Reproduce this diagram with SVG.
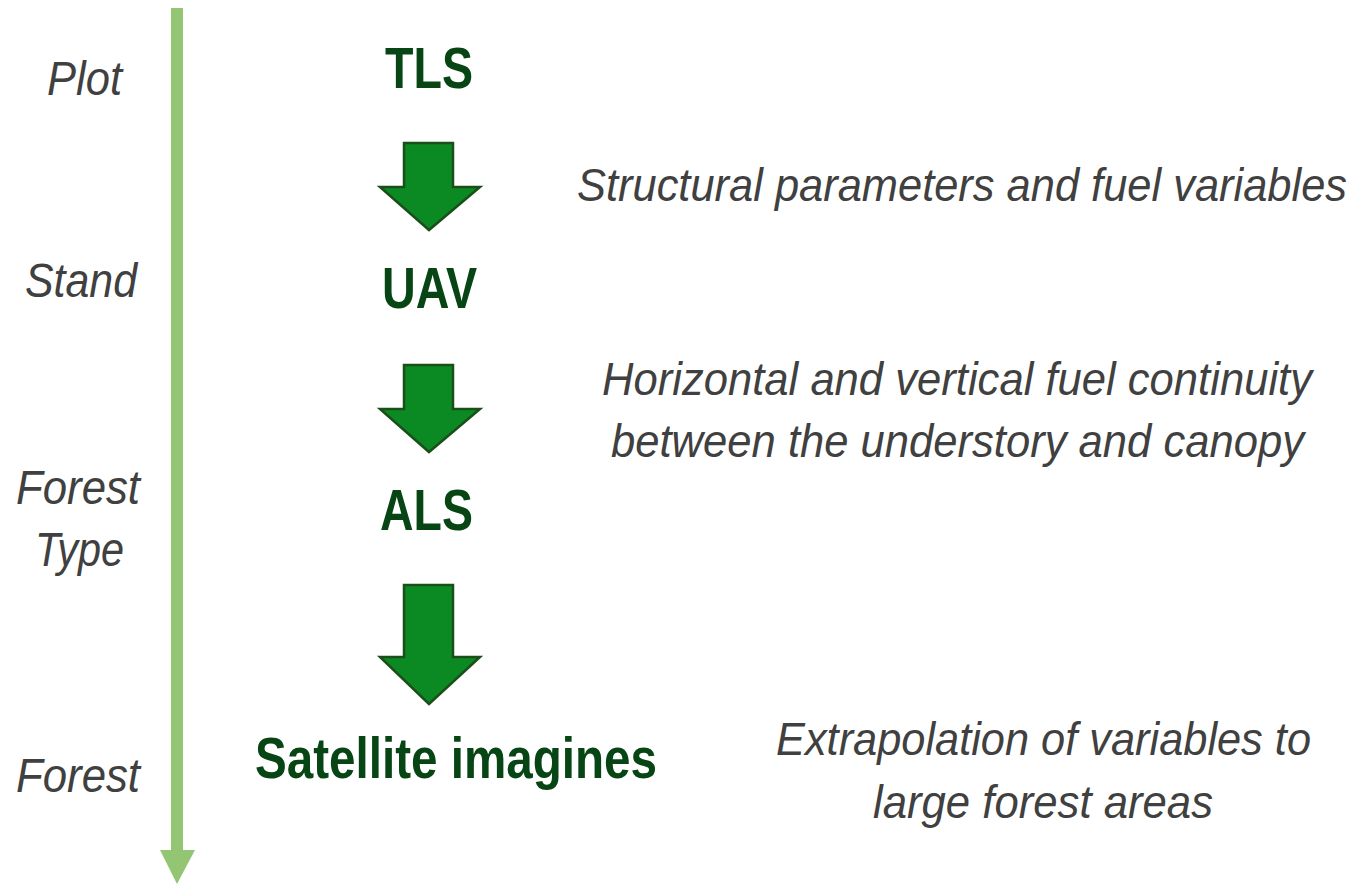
<svg xmlns="http://www.w3.org/2000/svg" width="1363" height="884" viewBox="0 0 1363 884">
  <style>
    .scale { font-family: "Liberation Sans", Arial, sans-serif; font-style: italic; font-size: 48px; fill: #404040; }
    .note { font-family: "Liberation Sans", Arial, sans-serif; font-style: italic; font-size: 43.5px; fill: #404040; }
    .sensor { font-family: "Liberation Sans", Arial, sans-serif; font-weight: bold; font-size: 57px; fill: #074515; }
    .step { fill: #0B8A24; stroke: #1A4F1A; stroke-width: 2.5; stroke-linejoin: miter; }
  </style>
  <rect width="1363" height="884" fill="#ffffff"/>

  <!-- scale axis -->
  <g id="scale-axis">
    <path d="M171 8 H183 V850 H195 L177 884 L160 850 H171 Z" fill="#93C572"/>
  </g>

  <!-- scale labels -->
  <g id="scale-plot"><text class="scale" x="47" y="95" textLength="75" lengthAdjust="spacingAndGlyphs">Plot</text></g>
  <g id="scale-stand"><text class="scale" x="25" y="297" textLength="112" lengthAdjust="spacingAndGlyphs">Stand</text></g>
  <g id="scale-forest-type">
    <text class="scale" x="16" y="504" textLength="124" lengthAdjust="spacingAndGlyphs">Forest</text>
    <text class="scale" x="35" y="566" textLength="89" lengthAdjust="spacingAndGlyphs">Type</text>
  </g>
  <g id="scale-forest"><text class="scale" x="16" y="792" textLength="124" lengthAdjust="spacingAndGlyphs">Forest</text></g>

  <!-- sensors -->
  <g id="tls"><text class="sensor" x="385" y="88" textLength="88" lengthAdjust="spacingAndGlyphs">TLS</text></g>
  <g id="uav"><text class="sensor" x="382" y="308" textLength="95" lengthAdjust="spacingAndGlyphs">UAV</text></g>
  <g id="als"><text class="sensor" x="380" y="530" textLength="93" lengthAdjust="spacingAndGlyphs">ALS</text></g>
  <g id="satellite"><text class="sensor" x="255" y="778" textLength="402" lengthAdjust="spacingAndGlyphs">Satellite imagines</text></g>

  <!-- flow arrows -->
  <g id="connectors">
    <path class="step" d="M404 143 H453 V187 H480 L429 230 L380 187 H404 Z"/>
    <path class="step" d="M404 365 H453 V409 H480 L429 452 L380 409 H404 Z"/>
    <path class="step" d="M404 585 H453 V657 H480 L429 704 L380 657 H404 Z"/>
  </g>

  <!-- descriptions (slightly stretched vertically) -->
  <g id="note-structural" transform="translate(577 201) scale(1 1.08)">
    <text class="note" x="0" y="0" textLength="770" lengthAdjust="spacingAndGlyphs">Structural parameters and fuel variables</text>
  </g>
  <g id="note-continuity">
    <text class="note" transform="translate(602 395) scale(1 1.08)" x="0" y="0" textLength="710" lengthAdjust="spacingAndGlyphs">Horizontal and vertical fuel continuity</text>
    <text class="note" transform="translate(611 457) scale(1 1.08)" x="0" y="0" textLength="693" lengthAdjust="spacingAndGlyphs">between the understory and canopy</text>
  </g>
  <g id="note-extrapolation">
    <text class="note" transform="translate(776 755) scale(1 1.08)" x="0" y="0" textLength="535" lengthAdjust="spacingAndGlyphs">Extrapolation of variables to</text>
    <text class="note" transform="translate(873 818) scale(1 1.08)" x="0" y="0" textLength="340" lengthAdjust="spacingAndGlyphs">large forest areas</text>
  </g>
</svg>
